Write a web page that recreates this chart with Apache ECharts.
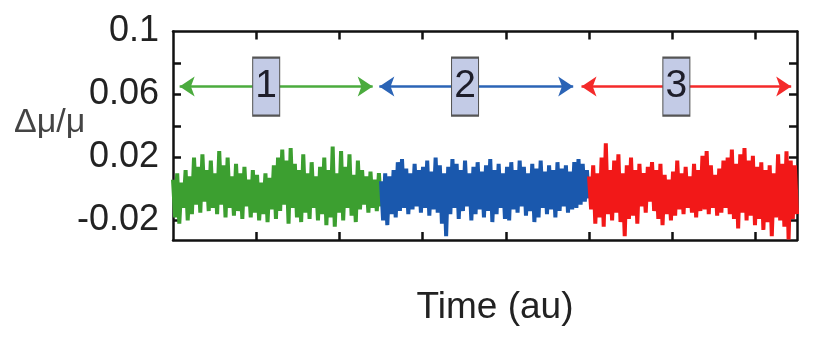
<!DOCTYPE html>
<html>
<head>
<meta charset="utf-8">
<script src="https://cdn.jsdelivr.net/npm/echarts@6/dist/echarts.min.js"></script>
<style>
html,body{margin:0;padding:0;background:#fff;}
#chart{width:813px;height:337px;}
</style>
</head>
<body>
<div id="chart"></div>
<script>
// Segment 1 (green), 2 (blue), 3 (red): signal values
var greenValues = [
0.006,-0.018,0.010,-0.022,0.004,-0.012,0.012,-0.020,0.008,-0.016,
0.020,-0.010,0.014,-0.015,0.022,-0.008,0.012,-0.014,0.018,-0.012,
0.010,-0.016,0.024,-0.010,0.015,-0.018,0.020,-0.012,0.008,-0.017,
0.016,-0.014,0.010,-0.019,0.014,-0.011,0.006,-0.018,0.012,-0.015,
0.009,-0.020,0.004,-0.016,0.010,-0.021,0.007,-0.013,0.015,-0.019,
0.020,-0.014,0.025,-0.010,0.018,-0.022,0.026,-0.012,0.016,-0.018,
0.012,-0.021,0.022,-0.015,0.010,-0.019,0.017,-0.012,0.008,-0.020,
0.014,-0.016,0.020,-0.023,0.012,-0.018,0.027,-0.024,0.010,-0.015,
0.024,-0.020,0.014,-0.012,0.022,-0.017,0.009,-0.021,0.018,-0.013,
0.012,-0.010,0.008,-0.015,0.011,-0.012,0.006,-0.014,0.010,-0.011
];
var blueValues = [
0.005,-0.020,0.010,-0.023,0.008,-0.016,0.012,-0.018,0.017,-0.014,
0.019,-0.012,0.013,-0.016,0.010,-0.013,0.016,-0.011,0.012,-0.015,
0.014,-0.012,0.018,-0.017,0.011,-0.013,0.020,-0.015,0.015,-0.022,
0.010,-0.030,0.014,-0.016,0.019,-0.012,0.016,-0.019,0.012,-0.014,
0.018,-0.011,0.010,-0.020,0.014,-0.016,0.017,-0.013,0.011,-0.018,
0.015,-0.014,0.019,-0.021,0.012,-0.016,0.016,-0.012,0.010,-0.019,
0.014,-0.020,0.017,-0.013,0.012,-0.015,0.018,-0.011,0.014,-0.017,
0.010,-0.014,0.016,-0.021,0.013,-0.018,0.018,-0.012,0.011,-0.016,
0.015,-0.013,0.012,-0.018,0.017,-0.014,0.013,-0.011,0.015,-0.015,
0.011,-0.013,0.017,-0.012,0.019,-0.010,0.016,-0.008,0.012,-0.006
];
var redValues = [
0.008,-0.013,0.015,-0.022,0.010,-0.018,0.020,-0.024,0.029,-0.016,
0.012,-0.020,0.018,-0.015,0.022,-0.021,0.010,-0.030,0.015,-0.019,
0.020,-0.017,0.012,-0.022,0.016,-0.011,0.010,-0.015,0.014,-0.008,
0.017,-0.014,0.012,-0.019,0.016,-0.023,0.009,-0.016,0.006,-0.020,
0.011,-0.017,0.018,-0.013,0.010,-0.016,0.014,-0.012,0.008,-0.015,
0.016,-0.018,0.012,-0.014,0.021,-0.013,0.024,-0.016,0.015,-0.012,
0.009,-0.017,0.013,-0.015,0.018,-0.012,0.020,-0.016,0.025,-0.019,
0.016,-0.025,0.022,-0.015,0.026,-0.020,0.018,-0.017,0.021,-0.023,
0.014,-0.019,0.017,-0.026,0.012,-0.021,0.015,-0.030,0.010,-0.018,
0.022,-0.020,0.016,-0.024,0.024,-0.032,0.018,-0.019,0.015,-0.016
];
var segmentStarts = [0, 2.5, 5.0];
var segmentLength = 2.5;
var segmentLabels = ['1', '2', '3'];
var arrowLevel = 0.065;
var arrowEnds = [[0.08, 2.40], [2.48, 4.81], [4.91, 7.43]];
var boxCenters = [1.12, 3.51, 6.05];
var yTickValues = [-0.02, 0, 0.02, 0.04, 0.06, 0.08];
var yLabelValues = [-0.02, 0.02, 0.06, 0.1];
var xTickValues = [1, 2, 3, 4, 5, 6, 7];

var FONT = '"Liberation Sans", Arial, sans-serif';
var colors = ['#3c9f30', '#1a58ad', '#f21818'];
var arrowColors = ['#4bab3e', '#2b64b6', '#f42a2a'];
var allValues = [greenValues, blueValues, redValues];

function pairs(start, arr) {
  var step = segmentLength / (arr.length - 1);
  return arr.map(function (v, i) { return [start + i * step, v]; });
}

var axisLine = {show: true, onZero: false, lineStyle: {color: '#111', width: 2.5}};
var tick = {show: true, inside: true, length: 8, lineStyle: {color: '#111', width: 2.5}};

var series = allValues.map(function (vals, k) {
  return {
    type: 'line',
    data: pairs(segmentStarts[k], vals),
    showSymbol: false,
    symbol: 'none',
    lineStyle: {color: colors[k], width: 4, join: 'bevel'},
    itemStyle: {color: colors[k]},
    z: 2,
    markLine: {
      silent: true,
      symbol: ['arrow', 'arrow'],
      symbolSize: [15, 15],
      label: {show: false},
      lineStyle: {color: arrowColors[k], width: 2.5, type: 'solid'},
      data: [[{coord: [arrowEnds[k][0], arrowLevel]}, {coord: [arrowEnds[k][1], arrowLevel]}]]
    },
    markPoint: {
      silent: true,
      symbol: 'rect',
      symbolSize: [27, 58],
      itemStyle: {color: '#c3cbe6', borderColor: '#555', borderWidth: 1.5},
      label: {show: true, position: 'inside', formatter: segmentLabels[k], color: '#1e1e2a', fontSize: 39, fontFamily: FONT},
      data: [{coord: [boxCenters[k], arrowLevel]}]
    }
  };
});

var chart = echarts.init(document.getElementById('chart'), null, {renderer: 'canvas'});
chart.setOption({
  animation: false,
  backgroundColor: '#fff',
  grid: {left: 173, right: 16, top: 31.5, bottom: 97, containLabel: false},
  xAxis: [
    {type: 'value', min: 0, max: 7.5, position: 'bottom', axisLine: axisLine,
     axisTick: Object.assign({}, tick, {customValues: xTickValues}), axisLabel: {show: false}, splitLine: {show: false}},
    {type: 'value', min: 0, max: 7.5, position: 'top', axisLine: axisLine,
     axisTick: Object.assign({}, tick, {customValues: xTickValues}), axisLabel: {show: false}, splitLine: {show: false}}
  ],
  yAxis: [
    {type: 'value', min: -0.0324, max: 0.1, position: 'left', axisLine: axisLine,
     axisTick: Object.assign({}, tick, {customValues: yTickValues}),
     axisLabel: {show: true, customValues: yLabelValues, margin: 14, color: '#222', fontSize: 36, fontFamily: FONT},
     splitLine: {show: false}},
    {type: 'value', min: -0.0324, max: 0.1, position: 'right', axisLine: axisLine,
     axisTick: Object.assign({}, tick, {customValues: yTickValues}), axisLabel: {show: false}, splitLine: {show: false}}
  ],
  graphic: [
    {type: 'text', left: 14, top: 106, style: {text: 'Δμ/μ', fontSize: 34, fontFamily: FONT, fill: '#444'}},
    {type: 'text', x: 495, y: 308, style: {text: 'Time (au)', fontSize: 37, fontFamily: FONT, fill: '#222', align: 'center', verticalAlign: 'middle'}}
  ],
  series: series
});
</script>
</body>
</html>
